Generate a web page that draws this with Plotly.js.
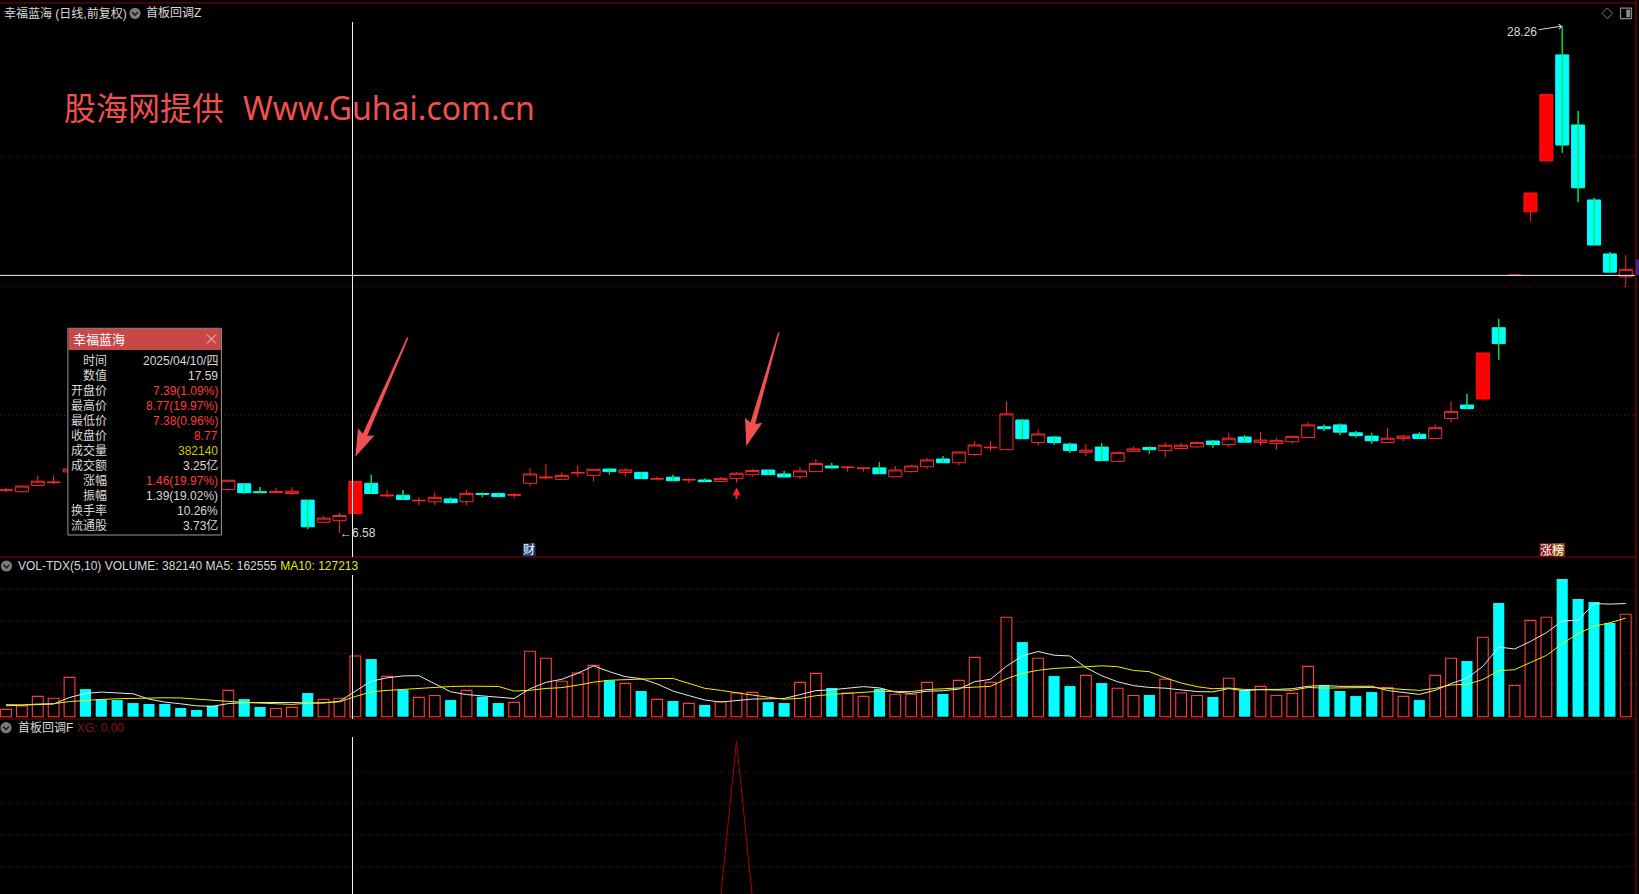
<!DOCTYPE html>
<html><head><meta charset="utf-8">
<script src="https://cdn.plot.ly/plotly-3.0.1.min.js"></script>
<style>html,body{margin:0;padding:0;background:#000;overflow:hidden}#chart{width:1639px;height:894px}</style>
</head><body><div id="chart"></div>
<script>
// ---------- data ----------
const openP = [8.39,8.33,8.60,8.72,9.18,null,null,null,null,null,
 null,null,null,null,8.43,8.67,8.33,8.29,8.25,7.97,
 7.02,7.09,7.39,8.69,8.15,8.18,7.94,7.90,8.02,7.90,
 8.25,8.25,8.18,8.69,8.92,8.86,9.13,9.03,9.30,9.15,
 9.16,8.87,8.95,8.83,8.83,8.77,8.89,9.06,9.26,9.09,
 8.97,9.19,9.43,9.37,9.33,9.35,8.97,9.19,9.40,9.73,
 9.57,9.92,10.21,10.13,11.40,10.44,10.67,10.37,10.02,10.24,
 9.63,10.06,10.22,10.09,10.18,10.25,10.50,10.35,10.67,10.44,
 10.39,10.47,10.65,11.11,11.19,10.85,10.71,10.44,10.61,10.79,
 10.61,11.46,12.04,12.30,15.35,17.60,20.31,22.49,27.03,24.03,
 20.82,18.51,17.53];
const highP = [8.50,8.58,9.02,9.03,9.33,null,null,null,null,null,
 null,null,null,null,8.82,8.70,8.53,8.50,8.52,7.98,
 7.29,7.43,8.77,9.05,8.40,8.40,8.09,8.30,8.10,8.40,
 8.29,8.29,8.29,9.33,9.52,9.16,9.47,9.29,9.35,9.35,
 9.16,8.99,9.05,8.92,8.90,8.96,9.17,9.30,9.26,9.22,
 9.39,9.73,9.56,9.43,9.37,9.60,9.43,9.47,9.79,9.86,
 10.03,10.50,10.50,12.21,11.44,11.01,10.71,10.43,10.37,10.42,
 10.03,10.27,10.27,10.45,10.42,10.48,10.54,10.85,10.76,10.88,
 10.64,10.70,11.31,11.20,11.25,10.93,10.85,11.07,10.76,10.88,
 11.22,12.21,12.52,14.27,15.73,17.60,21.12,25.34,28.26,24.63,
 20.91,18.59,18.46];
const lowP = [8.30,8.29,8.60,8.66,9.15,null,null,null,null,null,
 null,null,null,null,8.37,8.25,8.29,8.28,8.19,6.73,
 6.99,6.58,7.38,8.25,8.09,8.00,7.75,7.76,7.86,7.76,
 8.09,8.12,8.05,8.55,8.84,8.86,8.97,8.76,9.05,8.97,
 8.89,8.83,8.80,8.70,8.76,8.77,8.72,8.97,9.06,8.96,
 8.87,9.19,9.30,9.19,9.19,9.10,8.97,9.15,9.32,9.57,
 9.47,9.86,10.07,10.13,10.60,10.30,10.34,10.00,9.86,9.66,
 9.63,10.06,9.96,9.81,10.18,10.22,10.22,10.24,10.45,10.30,
 10.12,10.38,10.61,10.93,10.76,10.65,10.38,10.44,10.50,10.61,
 10.61,11.29,11.89,12.21,13.97,17.60,19.89,22.49,22.84,20.73,
 18.89,17.73,17.07];
const closeP = [8.41,8.57,8.78,8.74,9.30,null,null,null,null,null,
 null,null,null,null,8.82,8.29,8.29,8.34,8.35,6.83,
 7.20,7.31,8.77,8.25,8.18,8.00,7.96,8.09,7.86,8.26,
 8.22,8.12,8.20,9.09,8.95,9.03,9.15,9.29,9.19,9.26,
 8.89,8.89,8.80,8.85,8.76,8.90,9.12,9.24,9.06,8.96,
 9.22,9.54,9.35,9.38,9.34,9.10,9.26,9.43,9.69,9.57,
 10.03,10.33,10.23,11.66,10.60,10.80,10.43,10.09,10.11,9.66,
 10.00,10.16,10.13,10.32,10.32,10.44,10.35,10.62,10.45,10.54,
 10.53,10.70,11.19,11.03,10.88,10.73,10.51,10.62,10.71,10.61,
 11.07,11.77,11.89,14.27,14.67,17.60,21.12,25.34,23.17,21.34,
 18.89,17.73,17.85];
const limitUpDays = [22, 93, 95, 96, 97];
const volume = [46000,67000,128000,116000,248000,174000,109000,105000,86000,80000,
 80000,55000,42000,69000,166000,111000,61000,52000,59000,149000,
 109000,116000,382140,363000,254000,170000,122000,134000,105000,166000,
 126000,86000,90000,412000,368000,223000,275000,323000,229000,210000,
 162000,109000,99000,84000,74000,95000,149000,153000,92000,86000,
 216000,273000,181000,149000,128000,176000,141000,141000,216000,143000,
 229000,374000,216000,626000,470000,368000,256000,193000,260000,212000,
 179000,134000,137000,237000,149000,134000,124000,242000,168000,191000,
 134000,147000,317000,195000,162000,130000,155000,183000,128000,105000,
 260000,368000,351000,500000,716000,197000,607000,626000,867000,741000,
 722000,590000,645000];
const volUp = [1,1,1,1,1,0,0,0,0,0, 0,0,0,0,1,0,0,1,1,0, 1,1,1,0,1,0,1,1,0,1,
 0,0,1,1,1,1,1,1,0,1, 0,1,0,1,0,1,1,1,0,0, 1,1,0,1,1,0,1,1,1,0,
 1,1,1,1,0,1,0,0,1,0, 1,1,0,1,1,1,0,1,0,1, 1,1,1,0,0,0,0,1,1,0,
 1,1,0,1,0,1,1,1,0,0, 0,0,1];
const ma5 = [69000,72000,78000,80000,121000,146600,155000,150400,144400,110800,
 92000,81200,68600,65200,82400,88600,89800,91800,89800,86400,
 86000,97000,162555,223800,244800,257000,258200,208600,157000,139400,
 130600,123400,114600,176000,216400,235800,273600,320200,283600,252000,
 239800,206600,161800,132800,105600,92200,100200,111000,112600,115000,
 139200,164000,169600,181000,189400,181400,155000,147000,160400,163400,
 174000,220600,235600,317600,383000,410800,387200,382600,309400,257800,
 220000,195600,184400,179800,167200,158200,156200,177200,163400,171800,
 171800,176400,191400,196800,191000,190200,191800,165000,151600,140200,
 166200,208800,242400,316800,439000,426400,474200,529200,602600,607600,
 712600,709200,713000];
const ma10 = [76000,74000,80000,82000,95000,103000,109000,113000,116000,115900,
 119300,118100,109500,104800,96600,90300,85500,80200,77500,84400,
 87300,93400,127213,156800,165600,171500,177600,185800,190400,192100,
 193800,190800,161600,166500,177900,183200,198500,217400,229800,234200,
 237800,240100,241000,208200,178800,166000,153400,136400,122700,110300,
 115700,132100,140300,146800,152200,160300,159500,158300,170700,176400,
 177700,187800,191300,239000,273200,292400,303900,309100,313500,320400,
 315400,291400,283500,244600,212500,189100,175900,180800,171600,169500,
 165000,166300,184300,180100,181400,181000,184100,178200,174200,165600,
 178200,200300,203700,234200,289600,296300,341500,385800,459700,523300,
 569500,591700,621100];
const xg = [0,0,0,0,0,0,0,0,0,0, 0,0,0,0,0,0,0,0,0,0, 0,0,0,0,0,0,0,0,0,0,
 0,0,0,0,0,0,0,0,0,0, 0,0,0,0,0,0,1,0,0,0, 0,0,0,0,0,0,0,0,0,0,
 0,0,0,0,0,0,0,0,0,0, 0,0,0,0,0,0,0,0,0,0, 0,0,0,0,0,0,0,0,0,0,
 0,0,0,0,0,0,0,0,0,0, 0,0,0];
const crossDay = 22;
const tipRows = [
 ['时间','2025/04/10/四','#d8d8d8'], ['数值','17.59','#d8d8d8'],
 ['开盘价','7.39(1.09%)','#ff3c3c'], ['最高价','8.77(19.97%)','#ff3c3c'],
 ['最低价','7.38(0.96%)','#ff3c3c'], ['收盘价','8.77','#ff3c3c'],
 ['成交量','382140','#c8c800'], ['成交额','3.25亿','#d8d8d8'],
 ['涨幅','1.46(19.97%)','#ff3c3c'], ['振幅','1.39(19.02%)','#d8d8d8'],
 ['换手率','10.26%','#d8d8d8'], ['流通股','3.73亿','#d8d8d8']];

// ---------- helpers ----------
const W = 1639, H = 894;
const px = v => v / W, py = v => 1 - v / H;
const P = (x, y) => px(x).toFixed(5) + ',' + py(y).toFixed(5);
const UI = '"Liberation Sans", "Noto Sans CJK SC", sans-serif';
const WM = '"Noto Sans", "Noto Sans CJK SC", sans-serif';
const idx = openP.map((_, i) => i);
const isLimit = i => limitUpDays.includes(i);
const pick = (arr, cond) => arr.map((v, i) => cond(i) ? v : null);

// ---------- traces ----------
const traces = [];
const normal = i => !isLimit(i);
traces.push({type:'candlestick', x:idx, open:pick(openP,normal), high:pick(highP,normal), low:pick(lowP,normal), close:pick(closeP,normal),
  xaxis:'x', yaxis:'y', hoverinfo:'skip',
  increasing:{line:{color:'#ff2828', width:1}, fillcolor:'#000000'},
  decreasing:{line:{color:'#00ffff', width:1}, fillcolor:'#00ffff'}});
traces.push({type:'candlestick', x:idx, open:pick(openP,isLimit), high:pick(highP,isLimit), low:pick(lowP,isLimit), close:pick(closeP,isLimit),
  xaxis:'x', yaxis:'y', hoverinfo:'skip',
  increasing:{line:{color:'#ff1010', width:1}, fillcolor:'#ff0000'},
  decreasing:{line:{color:'#ff1010', width:1}, fillcolor:'#ff0000'}});
const wx = [], wy = [];
idx.forEach(i => { if (openP[i] != null && closeP[i] < openP[i]) { wx.push(i, i, null); wy.push(lowP[i], highP[i], null); } });
traces.push({type:'scatter', mode:'lines', x:wx, y:wy, xaxis:'x', yaxis:'y', line:{color:'#00e000', width:1}, hoverinfo:'skip'});

traces.push({type:'bar', x:idx, y:pick(volume, i => volUp[i] === 1), xaxis:'x', yaxis:'y2', width:0.68,
  marker:{color:'rgba(0,0,0,0)', line:{color:'#ff3c3c', width:1.1}}, hoverinfo:'skip'});
traces.push({type:'bar', x:idx, y:pick(volume, i => volUp[i] === 0), xaxis:'x', yaxis:'y2', width:0.7,
  marker:{color:'#00ffff', line:{width:0}}, hoverinfo:'skip'});
traces.push({type:'scatter', mode:'lines', x:idx, y:ma5, xaxis:'x', yaxis:'y2', line:{color:'#e8e8e8', width:1}, hoverinfo:'skip'});
traces.push({type:'scatter', mode:'lines', x:idx, y:ma10, xaxis:'x', yaxis:'y2', line:{color:'#f0f000', width:1}, hoverinfo:'skip'});
traces.push({type:'scatter', mode:'lines', x:idx, y:xg, xaxis:'x', yaxis:'y3', line:{color:'#a80000', width:1}, hoverinfo:'skip'});

// ---------- shapes ----------
const DR = '#8c0000';
const shapes = [];
const hline = (y, x0, x1, color, w, dash) => ({type:'line', xref:'paper', yref:'paper', x0:px(x0), x1:px(x1), y0:py(y), y1:py(y), line:{color, width:w, dash:dash||'solid'}, layer:'above'});
const vline = (x, y0, y1, color, w) => ({type:'line', xref:'paper', yref:'paper', x0:px(x), x1:px(x), y0:py(y0), y1:py(y1), line:{color, width:w}, layer:'above'});
const rect = (x0, y0, x1, y1, fill, lineColor, lw) => ({type:'rect', xref:'paper', yref:'paper', x0:px(x0), x1:px(x1), y0:py(y0), y1:py(y1), fillcolor:fill, line:{color:lineColor||fill, width:lw||0}, layer:'above'});
shapes.push(hline(3, 0, 1636, DR, 1.2));
shapes.push(hline(557, 0, 1636, DR, 1.2));
shapes.push(hline(719, 0, 1636, DR, 1.2));
shapes.push(vline(1636, 0, 894, DR, 1.2));
// crosshair
shapes.push(hline(275.4, 0, 1635, '#f0f0f0', 1));
shapes.push(vline(352.5, 22, 557, '#f0f0f0', 1));
shapes.push(vline(352.5, 575, 719, '#f0f0f0', 1));
shapes.push(vline(352.5, 737, 894, '#f0f0f0', 1));
// right price tag
shapes.push(rect(1635.6, 259.3, 1639, 275, '#4b1e8c'));
// header icons
function chevronIcon(cx, cy) {
  shapes.push({type:'circle', xref:'paper', yref:'paper', x0:px(cx-5.6), x1:px(cx+5.6), y0:py(cy-5.6), y1:py(cy+5.6), fillcolor:'#7c7c7c', line:{width:0}, layer:'above'});
  shapes.push({type:'path', xref:'paper', yref:'paper', path:'M'+P(cx-3,cy-1.2)+'L'+P(cx,cy+1.8)+'L'+P(cx+3,cy-1.2), line:{color:'#202020', width:1.6}, layer:'above'});
}
chevronIcon(135, 13.3);
chevronIcon(6.4, 566);
chevronIcon(6, 727.7);
// top-right icons
shapes.push({type:'path', xref:'paper', yref:'paper', path:'M'+P(1607.3,8)+'L'+P(1612.6,13.3)+'L'+P(1607.3,18.6)+'L'+P(1602,13.3)+'Z', line:{color:'#7c7c7c', width:1}, layer:'above'});
shapes.push(rect(1620.5, 8.2, 1631.5, 18.6, 'rgba(0,0,0,0)', '#8a8a8a', 1.2));
shapes.push(rect(1626.3, 9.6, 1630.2, 17.2, '#8a8a8a'));
// event labels
shapes.push(rect(523, 543.3, 535.5, 556.3, '#17407a'));
shapes.push(rect(1539.6, 543.2, 1552.1, 556.3, '#8c1414'));
shapes.push(rect(1552.1, 543.2, 1564.6, 556.3, '#9c5a1e'));
// hand-drawn red arrows
function arrowShape(tx, ty, hx, hy, headLen, headW, w0, w1, color) {
  const dx = hx - tx, dy = hy - ty, L = Math.hypot(dx, dy);
  const ux = dx / L, uy = dy / L, nx = -uy, ny = ux;
  const bx = hx - ux * headLen, by = hy - uy * headLen;
  const pts = [[tx+nx*w0/2, ty+ny*w0/2], [bx+nx*w1/2, by+ny*w1/2], [bx-ux*3+nx*headW/2, by-uy*3+ny*headW/2], [hx, hy],
               [bx-ux*3-nx*headW/2, by-uy*3-ny*headW/2], [bx-nx*w1/2, by-ny*w1/2], [tx-nx*w0/2, ty-ny*w0/2]];
  return {type:'path', xref:'paper', yref:'paper', path:'M' + pts.map(p => P(p[0], p[1])).join('L') + 'Z', fillcolor:color, line:{width:0}, layer:'above'};
}
shapes.push(arrowShape(407.7, 337.6, 355.4, 456.7, 24, 18, 1.5, 5, '#f05050'));
shapes.push(arrowShape(778.8, 332.4, 746.3, 446.3, 24, 18, 1.5, 5, '#f05050'));
// tooltip box
shapes.push(rect(67.9, 328.3, 221.4, 535, '#000000', '#9a9a9a', 1));
shapes.push(rect(68.4, 328.8, 220.9, 350, '#c84848'));
shapes.push({type:'path', xref:'paper', yref:'paper', path:'M'+P(207,334.5)+'L'+P(216,343.5)+'M'+P(216,334.5)+'L'+P(207,343.5), line:{color:'#f0d0d0', width:1}, layer:'above'});

// ---------- annotations ----------
const ann = [];
const txt = (x, y, text, o) => Object.assign({xref:'paper', yref:'paper', x:px(x), y:py(y), text, showarrow:false, xanchor:'left', yanchor:'middle',
  font:{family:UI, size:12, color:'#d8d8d8'}}, o || {});
ann.push(txt(1.5, 13.3, '幸福蓝海 (日线,前复权)'));
ann.push(txt(144, 13.3, '首板回调Z'));
ann.push(txt(62, 107, '股海网提供', {font:{family:WM, size:32, color:'#f05050'}}));
ann.push(txt(241, 107, 'Www.Guhai.com.cn', {font:{family:WM, size:32, color:'#f05050'}}));
ann.push(txt(16, 566, 'VOL-TDX(5,10) VOLUME: ' + volume[crossDay] + ' MA5: ' + ma5[crossDay] +
  ' <span style="color:#e8e800">MA10: ' + ma10[crossDay] + '</span>'));
ann.push(txt(16, 727.7, '首板回调F <span style="color:#8c1010">XG: ' + xg[crossDay].toFixed(2) + '</span>'));
// tooltip
ann.push(txt(71, 339.3, '幸福蓝海', {font:{family:UI, size:13, color:'#ffffff'}}));
tipRows.forEach((r, k) => {
  const y = 360.7 + 15 * k;
  ann.push(txt(108.5, y, r[0], {xanchor:'right'}));
  ann.push(txt(219.5, y, r[1], {xanchor:'right', font:{family:UI, size:12, color:r[2]}}));
});
// event label texts
ann.push(txt(529.2, 550, '财', {xanchor:'center', font:{family:UI, size:12, color:'#ffffff'}}));
ann.push(txt(1545.9, 550, '涨', {xanchor:'center', font:{family:UI, size:12, color:'#ffffff'}}));
ann.push(txt(1558.4, 550, '榜', {xanchor:'center', font:{family:UI, size:12, color:'#ffffff'}}));
// price marks
const iLow = lowP.indexOf(Math.min(...lowP.filter(v => v != null)));
const iHigh = highP.indexOf(Math.max(...highP.filter(v => v != null)));
ann.push({xref:'x', yref:'y', x:iLow, y:lowP[iLow], text:'←' + lowP[iLow].toFixed(2), showarrow:false, xanchor:'left', yanchor:'middle', xshift:-1,
  font:{family:UI, size:12, color:'#d8d8d8'}});
ann.push({xref:'x', yref:'y', x:iHigh, y:highP[iHigh], text:highP[iHigh].toFixed(2), showarrow:true, ax:-40, ay:6,
  arrowhead:4, arrowsize:1, arrowwidth:1, arrowcolor:'#d8d8d8', font:{family:UI, size:12, color:'#d8d8d8'}});
// signal arrow under the XG day
xg.forEach((v, i) => { if (v > 0) ann.push({xref:'x', yref:'y', x:i, y:lowP[i], yshift:-5, text:'', showarrow:true, ax:0, ay:13,
  arrowhead:2, arrowsize:0.8, arrowwidth:2, arrowcolor:'#ff2020'}); });

// ---------- layout ----------
const gridAxis = (domain, range, tickvals) => ({domain, range, tickvals, showticklabels:false, ticks:'', showgrid:true,
  gridcolor:'#9a0000', griddash:'1px,3px', gridwidth:1, zeroline:false, showline:false, fixedrange:true, anchor:'x'});
const layout = {
  width:W, height:H, margin:{l:0, r:0, t:0, b:0}, paper_bgcolor:'#000000', plot_bgcolor:'#000000',
  showlegend:false, hovermode:false, dragmode:false, barmode:'overlay', boxgap:0.18, boxgroupgap:0,
  xaxis:{domain:[0,1], range:[-0.378, 102.834], visible:false, fixedrange:true, rangeslider:{visible:false}, anchor:'y3'},
  yaxis: gridAxis([py(557), py(3)], [5.535, 29.251], [11.60, 17.12, 22.68]),
  yaxis2: gridAxis([py(719), py(557)], [-14488, 1005960], [200000, 400000, 600000, 800000]),
  yaxis3: gridAxis([0, py(719)], [0.0224, 1.1406], [0.2, 0.4, 0.6, 0.8]),
  shapes, annotations: ann
};
Plotly.newPlot('chart', traces, layout, {staticPlot:true, displayModeBar:false});
</script>
</body></html>
